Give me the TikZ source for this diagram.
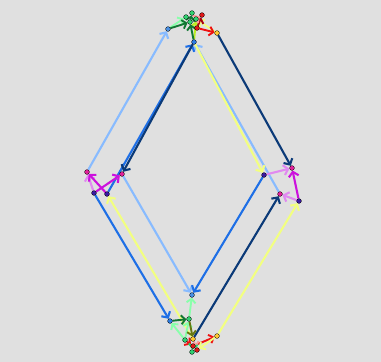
\documentclass[tikz,border=0pt]{standalone}
\usetikzlibrary{arrows.meta}
\definecolor{bg}{HTML}{E0E0E0}
\definecolor{lblue}{HTML}{88BBFF}
\definecolor{mblue}{HTML}{1E6FE6}
\definecolor{navy}{HTML}{0B3A78}
\definecolor{lyel}{HTML}{F2FF80}
\definecolor{ygreen}{HTML}{BBEE22}
\definecolor{mag}{HTML}{CC11DD}
\definecolor{lvio}{HTML}{E08AF0}
\definecolor{lgreen}{HTML}{88FFAA}
\definecolor{dgreen}{HTML}{117733}
\definecolor{olivec}{HTML}{667711}
\definecolor{redc}{HTML}{EE1111}
\definecolor{dred}{HTML}{AA0011}
\definecolor{pinkr}{HTML}{FF9999}
\definecolor{nlb}{HTML}{4A90E2}
\definecolor{nb}{HTML}{2A7BE0}
\definecolor{nmag}{HTML}{E0209A}
\definecolor{npur}{HTML}{3A1AA0}
\definecolor{nyel}{HTML}{FFC830}
\definecolor{ngr}{HTML}{30D070}
\definecolor{nred}{HTML}{E01818}
\pgfdeclarelayer{fg}
\pgfsetlayers{main,fg}
\tikzset{
  dot/.style={circle, draw=black, line width=0.3pt, inner sep=0pt, minimum size=4.8pt, fill=#1},
  ed/.style={line width=2.1pt, draw=#1, -{Straight Barb[length=4.5pt,width=10pt]}},
  eds/.style={line width=1.9pt, draw=#1, -{Straight Barb[length=4pt,width=9pt]}}
}
\begin{document}
\begin{tikzpicture}[x=1pt,y=-1pt]
\fill[bg] (0,0) rectangle (381,362);
\useasboundingbox (0,0) rectangle (381,362);
\begin{pgfonlayer}{fg}
% top
\node[dot=nlb] (Tlb) at (168,29) {};
\node[dot=nb] (Tb) at (194,42) {};
\node[dot=nyel] (Ty) at (217,33) {};
\node[dot=ngr] (TG1) at (186,17) {};
\node[dot=ngr] (TG2) at (192,13) {};
\node[dot=ngr] (TG3) at (196,19) {};
\node[dot=ngr] (TG4) at (190,22) {};
\node[dot=nred] (TR1) at (202,15) {};
\node[dot=nred] (TR2) at (197,28) {};
% left
\node[dot=nmag] (Lm1) at (87,172) {};
\node[dot=nmag] (Lm2) at (122,174) {};
\node[dot=npur] (Ld1) at (94,193) {};
\node[dot=npur] (Ld2) at (107,194) {};
% right
\node[dot=npur] (Rd1) at (264,175) {};
\node[dot=nmag] (Rm1) at (292,168) {};
\node[dot=nmag] (Rm2) at (280,194) {};
\node[dot=npur] (Rd2) at (299,201) {};
% bottom
\node[dot=nlb] (Blb) at (192,295) {};
\node[dot=nb] (Bb) at (170,321) {};
\node[dot=ngr] (Bg) at (189,319) {};
\node[dot=nyel] (By) at (217,336) {};
\node[dot=ngr] (BG1) at (185,340) {};
\node[dot=nyel] (BO) at (193,339) {};
\node[dot=nred] (BR1) at (193,346) {};
\node[dot=nred] (BR2) at (197,350) {};
\node[dot=ngr] (BG2) at (192,352) {};
\end{pgfonlayer}
% main edges
\draw[ed=lblue] (Lm1) -- (Tlb);
\draw[ed=lblue] (Rm2) -- (Tb);
\draw[ed=lblue] (Lm2) -- (Blb);
\draw[ed=lyel] (Tb) -- (Rd1);
\draw[ed=lyel] (By) -- (Rd2);
\draw[ed=lyel] (BO) -- (Ld2);
\draw[ed=mblue] (Rd1) -- (Blb);
\draw[ed=mblue] (Ld1) -- (Bb);
\draw[ed=mblue] (Ld2) -- (Tb);
\draw[ed=navy] (Ty) -- (Rm1);
\draw[ed=navy] (BO) -- (Rm2);
\draw[ed=navy] (Tb) -- (Lm2);
% left / right
\draw[ed=lvio] (Ld1) -- (Lm1);
\draw[ed=mag] (Ld2) -- (Lm1);
\draw[ed=mag] (Ld1) -- (Lm2);
\draw[ed=lvio] (Rd1) -- (Rm1);
\draw[ed=lvio] (Rd2) -- (Rm2);
\draw[ed=mag] (Rd2) -- (Rm1);
% top cluster
\draw[eds=lgreen] (Tlb) -- (TG1);
\draw[eds=dgreen] (Tlb) -- (TG4);
\draw[eds=ygreen] (Tb) -- (TG3);
\draw[eds=dgreen] (Tb) -- (TG4);
\draw[eds=lyel] (Ty) -- (TG3);
\draw[eds=redc] (TR2) -- (Ty);
\draw[eds=dred] (TR2) -- (TR1);
\draw[eds=pinkr] (TG3) -- (TR1);
\draw[eds=dgreen] (TG4) -- (TG2);
% bottom cluster
\draw[eds=lgreen] (Bg) -- (Blb);
\draw[eds=lgreen] (BG1) -- (Bg);
\draw[eds=lgreen] (BG1) -- (Bb);
\draw[eds=dgreen] (Bb) -- (Bg);
\draw[eds=olivec] (Bg) -- (BO);
\draw[eds=redc] (BR1) -- (By);
\draw[eds=lyel] (By) -- (BR2);
\draw[eds=pinkr] (BO) -- (BR2);
\draw[eds=redc] (BG1) -- (BR1);
\draw[eds=ngr] (BR1) -- (BG2);
\end{tikzpicture}
\end{document}
